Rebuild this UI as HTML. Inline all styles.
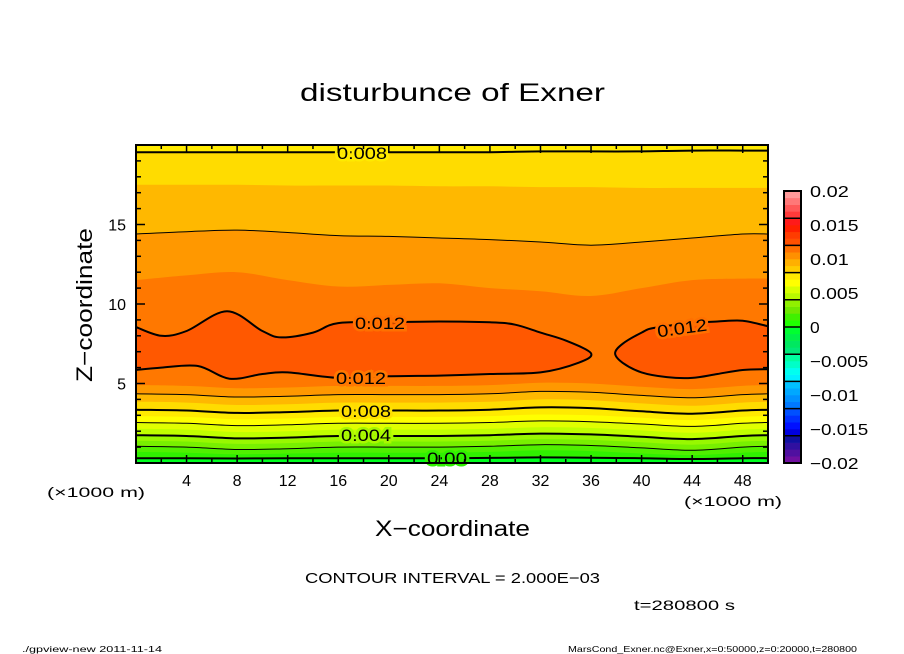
<!DOCTYPE html>
<html><head><meta charset="utf-8"><style>
html,body{margin:0;padding:0;background:#fff;}
svg{display:block;font-family:"Liberation Sans",sans-serif;}
</style></head><body>
<svg id="chart" width="904" height="654" viewBox="0 0 904 654">
<g id="field"></g>
<g id="lines"></g>
<g id="axes"></g>
<g id="cbar"></g>
<text x="300" y="101" font-size="25" textLength="305" lengthAdjust="spacingAndGlyphs">disturbunce of Exner</text>
<text x="375" y="536" font-size="22" textLength="155" lengthAdjust="spacingAndGlyphs">X−coordinate</text>
<text transform="translate(92,382) rotate(-90)" font-size="22" textLength="154" lengthAdjust="spacingAndGlyphs">Z−coordinate</text>
<text x="47" y="497" font-size="14" textLength="98" lengthAdjust="spacingAndGlyphs">(×1000 m)</text>
<text x="684" y="506" font-size="14" textLength="98" lengthAdjust="spacingAndGlyphs">(×1000 m)</text>
<text x="305" y="583" font-size="15" textLength="295" lengthAdjust="spacingAndGlyphs">CONTOUR INTERVAL = 2.000E−03</text>
<text x="634" y="610" font-size="14" textLength="101" lengthAdjust="spacingAndGlyphs">t=280800 s</text>
<text x="22" y="652" font-size="8" textLength="140" lengthAdjust="spacingAndGlyphs">./gpview-new   2011-11-14</text>
<text x="568" y="652" font-size="8" textLength="289" lengthAdjust="spacingAndGlyphs">MarsCond_Exner.nc@Exner,x=0:50000,z=0:20000,t=280800</text>
</svg>
<script>
// ---- data ----
const xs = [0,4,8,12,16,20,24,28,32,36,40,44,48,50];
const l000 = [0.3,0.3,0.28,0.3,0.3,0.3,0.3,0.32,0.35,0.33,0.3,0.25,0.3,0.3];
const l001 = [0.7,0.65,0.55,0.6,0.65,0.65,0.65,0.7,0.8,0.75,0.6,0.5,0.65,0.7];
const l002 = [1.05,1.0,0.85,0.9,1.0,1.0,1.0,1.05,1.15,1.1,0.95,0.8,1.0,1.05];
const l003 = [1.4,1.35,1.2,1.25,1.35,1.35,1.35,1.4,1.5,1.45,1.3,1.15,1.35,1.4];
const l004 = [1.75,1.7,1.55,1.6,1.7,1.7,1.7,1.75,1.85,1.8,1.65,1.5,1.7,1.75];
const l005 = [2.15,2.1,1.95,2.0,2.1,2.1,2.1,2.15,2.25,2.2,2.05,1.9,2.1,2.15];
const l006 = [2.55,2.5,2.35,2.4,2.5,2.5,2.5,2.55,2.65,2.6,2.45,2.3,2.5,2.55];
const l007 = [2.95,2.9,2.75,2.8,2.9,2.9,2.9,2.95,3.05,3.0,2.85,2.7,2.9,2.95];
const l008 = [3.35,3.3,3.15,3.2,3.3,3.3,3.3,3.35,3.5,3.45,3.25,3.1,3.3,3.35];
const l009 = [3.85,3.8,3.65,3.7,3.8,3.8,3.8,3.85,4.0,3.95,3.75,3.6,3.8,3.85];
const l010 = [4.35,4.3,4.15,4.2,4.3,4.3,4.3,4.35,4.5,4.45,4.25,4.1,4.3,4.35];
const l011 = [4.9,4.85,4.7,4.75,4.85,4.85,4.85,4.9,5.05,5.0,4.8,4.65,4.85,4.9];
const u008 = [19.55,19.55,19.55,19.55,19.55,19.55,19.55,19.55,19.6,19.6,19.6,19.65,19.65,19.65];
const u009 = [17.5,17.5,17.5,17.45,17.45,17.45,17.4,17.4,17.35,17.35,17.3,17.3,17.3,17.3];
const u010 = [14.4,14.55,14.65,14.5,14.3,14.25,14.15,14.05,13.9,13.7,13.9,14.15,14.4,14.4];
const u011 = [11.5,11.8,12.0,11.5,11.1,11.2,11.3,11.0,10.8,10.5,11.0,11.5,11.6,11.6];
// 0.012 closed contours (x km, z km)
const blobLeftX = [0,2,4,7.2,10,11.5,14,16,20,24,28,30,32,34,36,35,32,28,24,20,16,12,10,7.4,4.9,2,0];
const blobLeftZ = [8.55,8.0,8.3,9.55,8.3,7.9,8.2,8.8,8.85,8.9,8.85,8.7,8.2,7.7,6.9,6.3,5.7,5.6,5.5,5.45,5.35,5.7,5.6,5.3,6.1,6.0,5.85];
const blobRightX = [50,48,46,44,41,40,38.5,37.9,38.5,40,42,44,46,48,50];
const blobRightZ = [8.6,8.95,8.9,8.8,8.5,8.2,7.5,6.9,6.3,5.7,5.4,5.35,5.6,5.85,5.9];
const bandColors = {"-0.001":"#00ff20","0.000":"#30f000","0.001":"#50f000","0.002":"#78f000","0.003":"#98f800","0.004":"#c0ff00","0.005":"#e0ff00","0.006":"#ffff00","0.007":"#ffea00","0.008":"#ffdc00","0.009":"#ffb800","0.010":"#ff9800","0.011":"#ff7800","0.012":"#ff5800"};
const cbarColors = ["#7010a0","#5010a0","#3010a0","#1010a0","#0000e0","#0010ff","#0030ff","#0050ff","#0078ff","#0090ff","#00a8ff","#00c0ff","#00f0ff","#00fff0","#00ffc8","#00ffa0","#00e878","#00e860","#00f048","#00ff30","#20ff00","#40f000","#70e800","#90f000","#b8f800","#d8ff00","#ffff00","#ffe800","#ffcc00","#ffb000","#ff9000","#ff7000","#ff5000","#ff3c00","#ff2000","#ff1a1a","#ff3a3a","#ff5858","#ff7878","#ff9a9a"];
const cbarTickValues = [0.02,0.015,0.01,0.005,0,-0.005,-0.01,-0.015,-0.02];
const cbarTickLabels = ["0.02","0.015","0.01","0.005","0","−0.005","−0.01","−0.015","−0.02"];
const xTickValues = [4,8,12,16,20,24,28,32,36,40,44,48];
const zTickValues = [5,10,15];

// ---- scales ----
const X0=136,X1=768,Y0=463,Y1=145;
const sx = k => X0 + k/50*(X1-X0);
const sz = z => Y0 - z/20*(Y0-Y1);
const NS="http://www.w3.org/2000/svg";
function mk(tag, attrs, parent){const e=document.createElementNS(NS,tag);for(const k in attrs)e.setAttribute(k,attrs[k]);parent.appendChild(e);return e;}
function pts(xa,za){return xa.map((x,i)=>[sx(x),sz(za[i])]);}
function smooth(p){
  let d=`M${p[0][0].toFixed(1)},${p[0][1].toFixed(1)}`;
  for(let i=0;i<p.length-1;i++){
    const p0=p[Math.max(i-1,0)],p1=p[i],p2=p[i+1],p3=p[Math.min(i+2,p.length-1)];
    const c1=[p1[0]+(p2[0]-p0[0])/6,p1[1]+(p2[1]-p0[1])/6],c2=[p2[0]-(p3[0]-p1[0])/6,p2[1]-(p3[1]-p1[1])/6];
    d+=` C${c1[0].toFixed(1)},${c1[1].toFixed(1)} ${c2[0].toFixed(1)},${c2[1].toFixed(1)} ${p2[0].toFixed(1)},${p2[1].toFixed(1)}`;
  }
  return d;
}
const field=document.getElementById('field'), lines=document.getElementById('lines'), axes=document.getElementById('axes'), cbar=document.getElementById('cbar');

const bg=mk('rect',{x:X0,y:Y1,width:X1-X0,height:Y0-Y1,fill:bandColors["0.007"]},field);


const mids=[["0.008",l008,u008],["0.009",l009,u009],["0.010",l010,u010],["0.011",l011,u011]];
mids.forEach(([lv,lo,up])=>{
  const pu=pts(xs,up), pl=pts(xs,lo).reverse();
  const d=smooth(pu)+" L"+pl[0][0]+","+pl[0][1]+smooth(pl).replace(/^M[^C]*/," ")+" Z";
  const e=mk('path',{d:d,fill:bandColors[lv]},field);
  
  
});
[[blobLeftX,blobLeftZ,'left'],[blobRightX,blobRightZ,'right']].forEach(([bx,bz,nm])=>{
  const d=smooth(pts(bx,bz))+" Z";
  const e=mk('path',{d:d,fill:bandColors["0.012"]},field);
  
  
  const l=mk('path',{d:d,fill:'none',stroke:'#000','stroke-width':2},lines);
  
  
});
const lows=[["0.007",l007,"0.006"],["0.006",l006,"0.005"],["0.005",l005,"0.004"],["0.004",l004,"0.003"],["0.003",l003,"0.002"],["0.002",l002,"0.001"],["0.001",l001,"0.000"],["0.000",l000,"-0.001"]];
lows.forEach(([lv,lo,bc])=>{
  const p=pts(xs,lo);
  const d=smooth(p)+` L${X1},${Y0} L${X0},${Y0} Z`;
  const e=mk('path',{d:d,fill:bandColors[bc]},field);
  
  
});
const cl=[["0.000",l000,2],["0.002",l002,1],["0.004",l004,2],["0.006",l006,1],["0.008",l008,2],["0.010",l010,1],["0.010u",u010,1],["0.008u",u008,2]];
cl.forEach(([nm,arr,w])=>{
  const e=mk('path',{d:smooth(pts(xs,arr)),fill:'none',stroke:'#000','stroke-width':w},lines);
  
  
});
// contour labels with gap (stroke in background colour)
[[362,159,"0.008",0,"#ffea00"],[380,329,"0.012",0,"#ff7000"],[361,384,"0.012",0,"#ff7800"],[366,417,"0.008",0,"#ffe000"],[366,441,"0.004",0,"#a8f800"],[447,464,"0.00",0,"#30f000"],[682,334,"0.012",-8,"#ff7000"]].forEach(([x,y,t,r,c],i)=>{
  const e=mk('text',{x:x,y:y,'text-anchor':'middle','font-size':17,textLength:t.length*10,lengthAdjust:'spacingAndGlyphs',transform:`rotate(${r},${x},${y-6})`,stroke:c,'stroke-width':5,'paint-order':'stroke',fill:'#000'},lines);
  e.textContent=t;
  
  
});
const fr=mk('rect',{x:X0,y:Y1,width:X1-X0,height:Y0-Y1,fill:'none',stroke:'#000','stroke-width':2},axes);


for(let k=2;k<50;k+=2){
  const L=(k%4===0)?8:4, x=sx(k);
  mk('line',{x1:x,y1:Y0,x2:x,y2:Y0-L,stroke:'#000','stroke-width':1.5},axes);
  mk('line',{x1:x,y1:Y1,x2:x,y2:Y1+L,stroke:'#000','stroke-width':1.5},axes);
}
for(let z=1;z<20;z++){
  const L=(z%5===0)?9:5, y=sz(z);
  mk('line',{x1:X0,y1:y,x2:X0+L,y2:y,stroke:'#000','stroke-width':1.5},axes);
  mk('line',{x1:X1,y1:y,x2:X1-L,y2:y,stroke:'#000','stroke-width':1.5},axes);
}
xTickValues.forEach(v=>{
  const t=mk('text',{x:sx(v),y:486,'text-anchor':'middle','font-size':16},axes);
  t.textContent=v;
  
  
});
zTickValues.forEach(v=>{
  const t=mk('text',{x:126,y:sz(v)+6,'text-anchor':'end','font-size':16},axes);
  t.textContent=v;
  
  
});
const CX=784,CW=17,CB=463,CT=191;
const cy=v=>CB-(v+0.02)/0.04*(CB-CT);
cbarColors.forEach((c,i)=>{
  const v0=-0.02+i*0.001;
  const r=mk('rect',{x:CX,y:cy(v0+0.001),width:CW,height:cy(v0)-cy(v0+0.001)+0.3,fill:c},cbar);
  
  
});
for(let i=1;i<10;i++){const y=cy(-0.02+i*0.004);mk('line',{x1:CX,y1:y,x2:CX+CW,y2:y,stroke:'#000','stroke-width':1.5},cbar);}
mk('rect',{x:CX,y:CT,width:CW,height:CB-CT,fill:'none',stroke:'#000','stroke-width':2},cbar);
cbarTickValues.forEach((v,i)=>{
  const lab=cbarTickLabels[i];
  const t=mk('text',{x:810,y:cy(v)+6,'font-size':16,textLength:lab.length*9.7,lengthAdjust:'spacingAndGlyphs'},cbar);
  t.textContent=lab;
  
  
});
</script>
</body></html>
